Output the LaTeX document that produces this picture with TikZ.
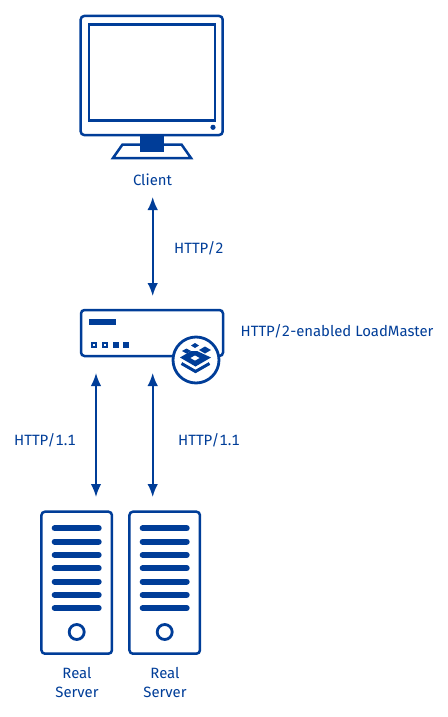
\documentclass[tikz,border=0pt]{standalone}
\usepackage{fontspec}
\setmainfont[Numbers=Monospaced]{Fira Sans}
\usetikzlibrary{arrows.meta}
\definecolor{kemp}{HTML}{003D98}
\tikzset{
  outline/.style={draw=kemp,line width=2.5pt,rounded corners=3.5pt,fill=white,inner sep=0pt},
  label/.style={text=kemp,font=\fontsize{14.9pt}{18pt}\selectfont,inner sep=0pt},
  twoway/.style={draw=kemp,line width=1.7pt,{Latex[length=13pt,width=10.5pt]}-{Latex[length=13pt,width=10.5pt]}},
  solid fill/.style={fill=kemp,draw=none},
  slot/.style={draw=kemp,line width=6pt,line cap=round},
  ring/.style={draw=kemp,line width=2.8pt,fill=white},
}
\newcommand{\rackicon}[2]{% centre x, name
  \node[outline,minimum width=70.5pt,minimum height=142pt] (#2) at (#1,582.7) {};
  \foreach \yy in {528.3,541.6,554.9,568.2,581.5,594.8,608.1}
    \draw[slot] (#1-22,\yy) -- (#1+22,\yy);
  \draw[ring] (#1,632) circle (7.5);
}
\begin{document}
\begin{tikzpicture}[x=1pt,y=-1pt]
\useasboundingbox (0,0) rectangle (447,717);
% client monitor
\draw[draw=kemp,line width=2.5pt,fill=white,line join=miter] (113,158) -- (122.5,144.5) -- (181.5,144.5) -- (191,158) -- cycle;
\node[outline,minimum width=142pt,minimum height=119pt] (client) at (151.7,75.5) {};
\node[draw=kemp,line width=2.5pt,fill=white,minimum width=126pt,minimum height=96pt,inner sep=0pt] (screen) at (151.8,72.5) {};
\fill[kemp] (213,127.3) circle (2.6);
\node[solid fill,minimum width=24pt,minimum height=17.5pt,inner sep=0pt] (stand) at (152,143.7) {};
\node[label] (clientlabel) at (152.5,180) {Client};
% loadmaster
\node[outline,minimum width=142pt,minimum height=46pt] (lm) at (152,333) {};
\fill[kemp] (89,319) rectangle (116,325);
\foreach \xx in {91,102,112.5,123}{\fill[kemp] (\xx,342) rectangle ++(6,6);}
\fill[white] (93.3,344.3) rectangle ++(1.4,1.4);
\fill[white] (104.3,344.3) rectangle ++(1.4,1.4);
\node[ring,circle,minimum size=46pt,inner sep=0pt] (badge) at (196,360) {};
\draw[kemp,line width=3pt,line join=miter] (181.5,363.5) -- (195.5,371.5) -- (209.5,363.5);
\fill[kemp] (180,357.5) -- (191,351) -- (197,351) -- (211,357.5) -- (195.5,366.5) -- cycle;
\fill[white] (195,355.5) -- (199.5,358) -- (195,360.5) -- (190.5,358) -- cycle;
\fill[kemp] (182,351) -- (186.5,348.5) -- (191,351) -- (186.5,353.5) -- cycle;
\fill[kemp] (191,345.5) -- (195,343) -- (199,345.5) -- (195,348) -- cycle;
\fill[kemp] (199,350) -- (205,346.5) -- (211,350) -- (205,353.5) -- cycle;
\node[label,anchor=west] (lmlabel) at (240.5,331) {HTTP/2-enabled LoadMaster};
% servers
\rackicon{76.7}{srvone}
\rackicon{164.7}{srvtwo}
\node[label] (realone) at (77,673) {Real};
\node[label] (serverone) at (77,692) {Server};
\node[label] (realtwo) at (165,673) {Real};
\node[label] (servertwo) at (165,692) {Server};
% connectors
\coordinate (ctop) at (152.7,197);
\coordinate (cbot) at (152.7,296);
\coordinate (ltop) at (96,373);
\coordinate (lbot) at (96,497);
\coordinate (rtop) at (152.7,373);
\coordinate (rbot) at (152.7,497);
\draw[twoway] (ctop) -- (cbot);
\draw[twoway] (ltop) -- (lbot);
\draw[twoway] (rtop) -- (rbot);
\node[label,anchor=west] (httptwo) at (174,248.5) {HTTP/2};
\node[label,anchor=west] (httpleft) at (14,440.5) {HTTP/1.1};
\node[label,anchor=west] (httpright) at (178,440.5) {HTTP/1.1};
\end{tikzpicture}
\end{document}
